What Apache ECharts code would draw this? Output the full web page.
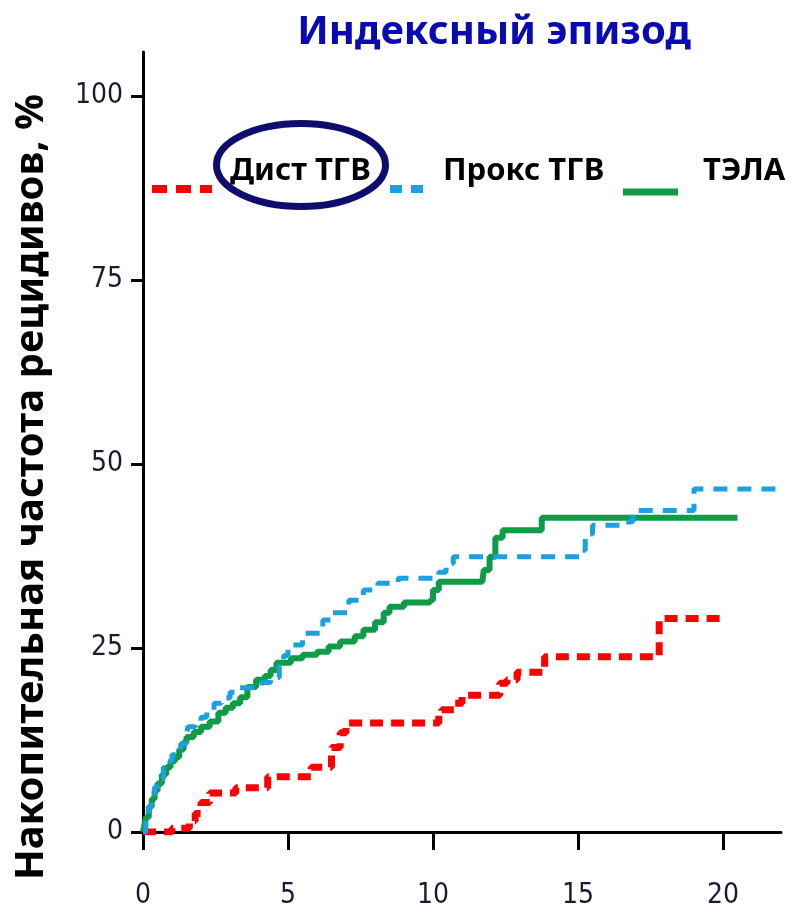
<!DOCTYPE html>
<html><head><meta charset="utf-8">
<script src="https://cdn.jsdelivr.net/npm/echarts@6/dist/echarts.min.js"></script>
<style>html,body{margin:0;padding:0;background:#fff}#c{width:796px;height:913px}</style>
</head><body><div id="c"></div>
<script>
// Data (years, cumulative recurrence %)
const xTicks = [0, 5, 10, 15, 20];
const yTicks = [0, 25, 50, 75, 100];
const distDVT = [[0,0],[1.0,0.5],[1.6,1.5],[1.8,2.5],[2.0,4.0],[2.3,5.3],[3.2,6.0],[4.3,7.5],[5.8,8.8],[6.5,11.5],[6.8,13.5],[7.0,14.8],[10.2,15.8],[10.3,16.6],[10.75,17.5],[11.0,18.6],[12.3,20.2],[12.55,20.7],[12.9,21.7],[13.85,23.8],[17.8,29.0],[20.1,29.0]];
const proxDVT = [[0,0],[0.1,2],[0.2,3.5],[0.3,4.8],[0.4,6.1],[0.55,7.2],[0.7,8.8],[0.85,9.6],[1.0,10.5],[1.15,11.1],[1.3,12.0],[1.5,13.2],[1.55,14.3],[1.8,15.0],[2.0,15.6],[2.2,16.5],[2.45,17.5],[2.7,18.2],[3.0,19.0],[3.3,19.6],[4.1,20.3],[4.4,21.0],[4.7,22.5],[4.85,24.0],[5.0,25.4],[5.5,27.0],[6.2,28.8],[6.55,29.8],[7.1,31.5],[7.6,32.9],[8.1,33.8],[8.8,34.5],[10.2,35.3],[10.45,36.5],[10.7,37.4],[15.05,38.3],[15.25,40.5],[15.5,41.7],[16.75,42.2],[16.9,43.7],[19.0,46.6],[21.9,46.6]];
const pe = [[0,0],[0.05,1],[0.1,2],[0.2,3.4],[0.3,4.5],[0.4,5.6],[0.5,6.6],[0.65,7.8],[0.8,8.8],[0.95,9.6],[1.1,10.2],[1.25,11.2],[1.4,12.2],[1.5,12.9],[1.75,13.6],[2.0,14.3],[2.3,15.0],[2.6,16.2],[2.85,16.9],[3.1,17.5],[3.35,18.3],[3.6,19.7],[3.9,20.7],[4.2,21.2],[4.4,22.0],[4.6,23.0],[5.1,23.6],[5.5,24.1],[6.0,24.5],[6.4,25.2],[6.8,25.9],[7.3,26.6],[7.6,27.5],[8.0,28.5],[8.3,29.8],[8.5,30.6],[9.0,31.2],[9.9,31.5],[10.0,32.9],[10.2,34.0],[11.7,34.0],[11.75,35.6],[11.95,37.4],[12.15,40.0],[12.4,41.0],[13.75,42.7],[20.5,42.7]];
const seriesNames = ['Дист ТГВ', 'Прокс ТГВ', 'ТЭЛА'];
const titleText = 'Индексный эпизод';
const yName = 'Накопительная частота рецидивов, %';

const RED = '#ff0000', BLUE = '#1ba1e2', GREEN = '#0f9b48';
const tickFont = '"Liberation Sans Narrow", "DejaVu Sans Condensed", sans-serif';
const boldFont = '"Noto Sans", "Open Sans", sans-serif';

const chart = echarts.init(document.getElementById('c'));
chart.setOption({
  animation: false,
  backgroundColor: '#fff',
  title: {
    text: titleText, left: 489, top: 8, textAlign: 'center',
    textStyle: { fontFamily: boldFont, fontWeight: 'bold', fontSize: 40, color: '#0a0ab5' }
  },
  grid: { left: 143, right: 15, top: 52, bottom: 81, containLabel: false },
  xAxis: {
    type: 'value', min: 0, max: 22, interval: 5,
    splitLine: { show: false },
    axisLine: { lineStyle: { color: '#000', width: 3 } },
    axisTick: { show: true, length: 18, lineStyle: { color: '#000', width: 3 }, customValues: xTicks },
    axisLabel: { margin: 50, fontFamily: tickFont, fontSize: 28, color: '#1a1a33', customValues: xTicks }
  },
  yAxis: {
    type: 'value', min: 0, max: 106,
    splitLine: { show: false },
    axisLine: { show: true, lineStyle: { color: '#000', width: 3 } },
    axisTick: { show: true, length: 12, lineStyle: { color: '#000', width: 3 }, customValues: yTicks },
    axisLabel: { margin: 20, fontFamily: tickFont, fontSize: 28, color: '#1a1a33', customValues: yTicks }
  },
  series: [
    { name: seriesNames[0], type: 'line', step: 'end', data: distDVT, showSymbol: false, z: 3,
      lineStyle: { color: RED, width: 7, type: [13, 8] } },
    { name: seriesNames[1], type: 'line', step: 'end', data: proxDVT, showSymbol: false, z: 3,
      lineStyle: { color: BLUE, width: 5, type: [14, 10] } },
    { name: seriesNames[2], type: 'line', step: 'end', data: pe, showSymbol: false, z: 2,
      lineStyle: { color: GREEN, width: 6 } }
  ],
  graphic: [
    { type: 'text', x: 32, y: 487, rotation: Math.PI / 2,
      style: { text: yName, fontFamily: boldFont, fontWeight: 'bold', fontSize: 40, fill: '#000', align: 'center', verticalAlign: 'middle' } },
    { type: 'line', shape: { x1: 152, y1: 189, x2: 212, y2: 189 }, style: { stroke: RED, lineWidth: 8, lineDash: [15, 9] } },
    { type: 'text', x: 230, y: 171, style: { text: seriesNames[0], fontFamily: boldFont, fontWeight: 'bold', fontSize: 31, fill: '#000', verticalAlign: 'middle' } },
    { type: 'ellipse', shape: { cx: 301, cy: 165, rx: 84.5, ry: 41.5 }, style: { fill: 'none', stroke: '#0d0d6e', lineWidth: 7 } },
    { type: 'line', shape: { x1: 390, y1: 189, x2: 423, y2: 189 }, style: { stroke: BLUE, lineWidth: 8, lineDash: [12, 9] } },
    { type: 'text', x: 443, y: 171, style: { text: seriesNames[1], fontFamily: boldFont, fontWeight: 'bold', fontSize: 31, fill: '#000', verticalAlign: 'middle' } },
    { type: 'line', shape: { x1: 623, y1: 192, x2: 678, y2: 192 }, style: { stroke: GREEN, lineWidth: 7 } },
    { type: 'text', x: 703, y: 171, style: { text: seriesNames[2], fontFamily: boldFont, fontWeight: 'bold', fontSize: 31, fill: '#000', verticalAlign: 'middle' } }
  ]
});
</script></body></html>
